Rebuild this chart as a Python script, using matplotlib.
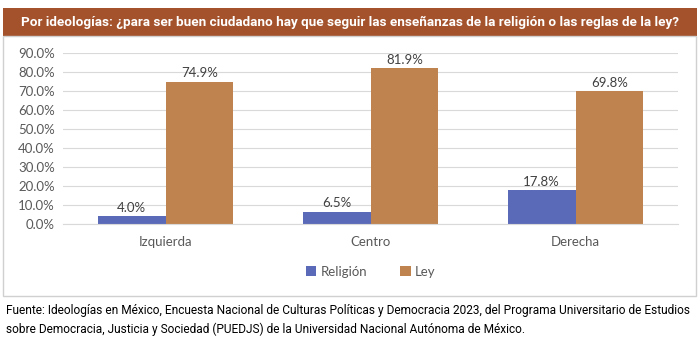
import matplotlib
matplotlib.use("Agg")
import matplotlib.pyplot as plt
from matplotlib.patches import Rectangle
import numpy as np

categories = ["Izquierda", "Centro", "Derecha"]
religion = [4.0, 6.5, 17.8]
ley = [74.9, 81.9, 69.8]
series_names = ["Religión", "Ley"]

title = "Por ideologías: ¿para ser buen ciudadano hay que seguir las enseñanzas de la religión o las reglas de la ley?"
source = ("Fuente: Ideologías en México, Encuesta Nacional de Culturas Políticas y Democracia 2023, del Programa Universitario de Estudios\n"
          "sobre Democracia, Justicia y Sociedad (PUEDJS) de la Universidad Nacional Autónoma de México.")

c_rel = "#5B6AB8"
c_ley = "#BF8350"
c_title = "#A4522C"
narrow = ["Roboto", "DejaVu Sans"]
body = ["Lato", "DejaVu Sans"]

fig = plt.figure(figsize=(7, 3.44), dpi=100)

# title bar and chart frame (figure coords)
fig.patches.append(Rectangle((3/700, 1-36/344), 694/700, 28/344, transform=fig.transFigure,
                             facecolor=c_title, edgecolor="none", zorder=-2))
fig.patches.append(Rectangle((3/700, 1-296/344), 693/700, 260/344, transform=fig.transFigure,
                             facecolor="white", edgecolor="#D0D0D0", linewidth=1, zorder=-2))
fig.text(0.5, 1-22/344, title, ha="center", va="center", color="white",
         fontsize=9.7, fontweight="bold", family=narrow)

ax = fig.add_axes([63/700, 1-224/344, 615/700, 171/344])
ax.patch.set_alpha(0)
x = np.arange(len(categories))
w = 0.33
b1 = ax.bar(x - w/2, religion, w, color=c_rel, label=series_names[0])
b2 = ax.bar(x + w/2, ley, w, color=c_ley, label=series_names[1])
for bars, vals in ((b1, religion), (b2, ley)):
    for r, v in zip(bars, vals):
        ax.text(r.get_x() + r.get_width()/2, v + 1.2, f"{v:.1f}%", ha="center", va="bottom",
                fontsize=9.5, color="#404040", family=body)

ax.set_xlim(-0.5, 2.5)
ax.set_ylim(0, 90)
ax.set_yticks(np.arange(0, 91, 10))
ax.set_yticklabels([f"{t:.1f}%" for t in range(0, 91, 10)], family=body)
ax.set_xticks(x)
ax.set_xticklabels(categories, family=body)
ax.tick_params(axis="both", length=0, labelsize=9.5, labelcolor="#595959")
ax.tick_params(axis="x", pad=9)
ax.tick_params(axis="y", pad=6)
ax.grid(axis="y", color="#D9D9D9", linewidth=0.8)
ax.set_axisbelow(True)
for s in ax.spines.values():
    s.set_visible(False)
ax.spines["bottom"].set_visible(True)
ax.spines["bottom"].set_color("#D9D9D9")

ax.legend(loc="center", bbox_to_anchor=(0.5, -0.28), ncol=2, frameon=False,
          prop={"family": body, "size": 9.5},
          handlelength=0.8, handleheight=0.8, columnspacing=2.5, handletextpad=0.3,
          labelcolor="#595959")

fig.text(6/700, 1-320/344, source, ha="left", va="center", fontsize=8.6,
         family=narrow, color="black", linespacing=1.5)

fig.savefig("out.png", dpi=100)
